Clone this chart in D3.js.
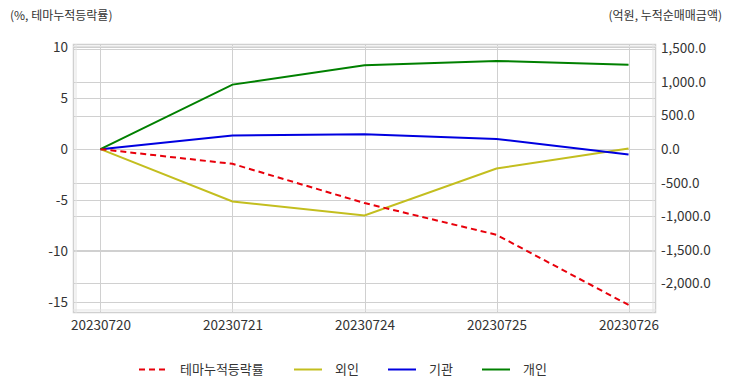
<!DOCTYPE html>
<html><head><meta charset="utf-8">
<script src="https://cdn.jsdelivr.net/npm/d3@7"></script>
<style>body{margin:0;background:#fff;}svg{display:block;font-family:"Noto Sans CJK KR","Noto Sans",sans-serif;}</style>
</head><body><svg id="c" width="732" height="392"></svg>
<script>
const dates = ["20230720","20230721","20230724","20230725","20230726"];
const themeRate = [0, -1.44, -5.28, -8.39, -15.26];
const foreign = [0, -781, -990, -289, 9];
const institution = [0, 203, 224, 153, -80];
const individual = [0, 963, 1252, 1316, 1261];
const leftTicks = [10, 5, 0, -5, -10, -15];
const rightTicks = [1500, 1000, 500, 0, -500, -1000, -1500, -2000];
const seriesNames = ["테마누적등락률", "외인", "기관", "개인"];

const svg = d3.select("#c");
const L = 73, R = 656, T = 44, B = 313;
const x = d3.scalePoint().domain(dates).range([L, R]).padding(0.208);
const yL = d3.scaleLinear().domain([-16.05, 10.3]).range([B, T]);
const yR = d3.scaleLinear().domain([-2444, 1569]).range([B, T]);
const grid = "#d0d0d0";
const hy = s => s.replace(/\u2212/g, "-");

const g = svg.append("g");
g.selectAll(".gl").data(leftTicks).join("line")
  .attr("x1", L).attr("x2", R).attr("y1", d => Math.round(yL(d)) + 0.5).attr("y2", d => Math.round(yL(d)) + 0.5)
  .attr("stroke", grid);
g.selectAll(".gr").data(rightTicks).join("line")
  .attr("x1", L).attr("x2", R).attr("y1", d => Math.round(yR(d)) + 0.5).attr("y2", d => Math.round(yR(d)) + 0.5)
  .attr("stroke", grid);
g.selectAll(".gx").data(dates).join("line")
  .attr("y1", T).attr("y2", B).attr("x1", d => Math.round(x(d)) + 0.5).attr("x2", d => Math.round(x(d)) + 0.5)
  .attr("stroke", grid);
g.append("rect").attr("x", L + 0.5).attr("y", T + 0.5).attr("width", R - L - 1).attr("height", B - T - 1)
  .attr("fill", "none").attr("stroke", grid).attr("stroke-width", 1.5);
g.append("line").attr("x1", L + 3).attr("x2", L + 3).attr("y1", T).attr("y2", B).attr("stroke", "#e2e2e2");
g.append("line").attr("x1", R - 3).attr("x2", R - 3).attr("y1", T).attr("y2", B).attr("stroke", "#e2e2e2");
g.append("line").attr("x1", L).attr("x2", R).attr("y1", T + 2.5).attr("y2", T + 2.5).attr("stroke", "#e2e2e2");
g.append("line").attr("x1", L).attr("x2", R).attr("y1", B - 3).attr("y2", B - 3).attr("stroke", "#e2e2e2");

const axL = d3.axisLeft(yL).tickValues(leftTicks).tickSize(0).tickPadding(5).tickFormat(d => hy(d3.format("d")(d)));
const axR = d3.axisRight(yR).tickValues(rightTicks).tickSize(0).tickPadding(5).tickFormat(d => hy(d3.format(",.1f")(d)));
const axB = d3.axisBottom(x).tickSize(0).tickPadding(7);
[[axL, `translate(${L},0)`], [axR, `translate(${R},0)`], [axB, `translate(0,${B})`]].forEach(([a, t]) => {
  const s = svg.append("g").attr("transform", t).call(a);
  s.select(".domain").remove();
  s.selectAll("text").attr("fill", "#333").style("font-size", "13.5px").style("font-family", '"Noto Sans CJK KR","Noto Sans",sans-serif');
});

const lineL = d3.line().x((d, i) => x(dates[i])).y(d => yL(d));
const lineR = d3.line().x((d, i) => x(dates[i])).y(d => yR(d));
const colors = ["#e8000b", "#c3be1f", "#0000e0", "#008000"];
svg.append("path").datum(foreign).attr("d", lineR).attr("fill", "none").attr("stroke", colors[1]).attr("stroke-width", 2);
svg.append("path").datum(institution).attr("d", lineR).attr("fill", "none").attr("stroke", colors[2]).attr("stroke-width", 2);
svg.append("path").datum(individual).attr("d", lineR).attr("fill", "none").attr("stroke", colors[3]).attr("stroke-width", 2);
svg.append("path").datum(themeRate).attr("d", lineL).attr("fill", "none").attr("stroke", colors[0]).attr("stroke-width", 2).attr("stroke-dasharray", "6,4");

svg.append("text").attr("x", 10).attr("y", 20).text("(%, 테마누적등락률)").attr("fill", "#333").style("font-size", "12px");
svg.append("text").attr("x", 722).attr("y", 20).attr("text-anchor", "end").text("(억원, 누적순매매금액)").attr("fill", "#333").style("font-size", "12px");

const legX = [139, 294, 388, 482];
const leg = svg.append("g");
seriesNames.forEach((n, i) => {
  leg.append("line").attr("x1", legX[i]).attr("x2", legX[i] + 28).attr("y1", 369.5).attr("y2", 369.5)
    .attr("stroke", colors[i]).attr("stroke-width", 2).attr("stroke-dasharray", i === 0 ? "6,4" : null);
  leg.append("text").attr("x", legX[i] + 41).attr("y", 374).text(n).attr("fill", "#333").style("font-size", "13px");
});
</script></body></html>
